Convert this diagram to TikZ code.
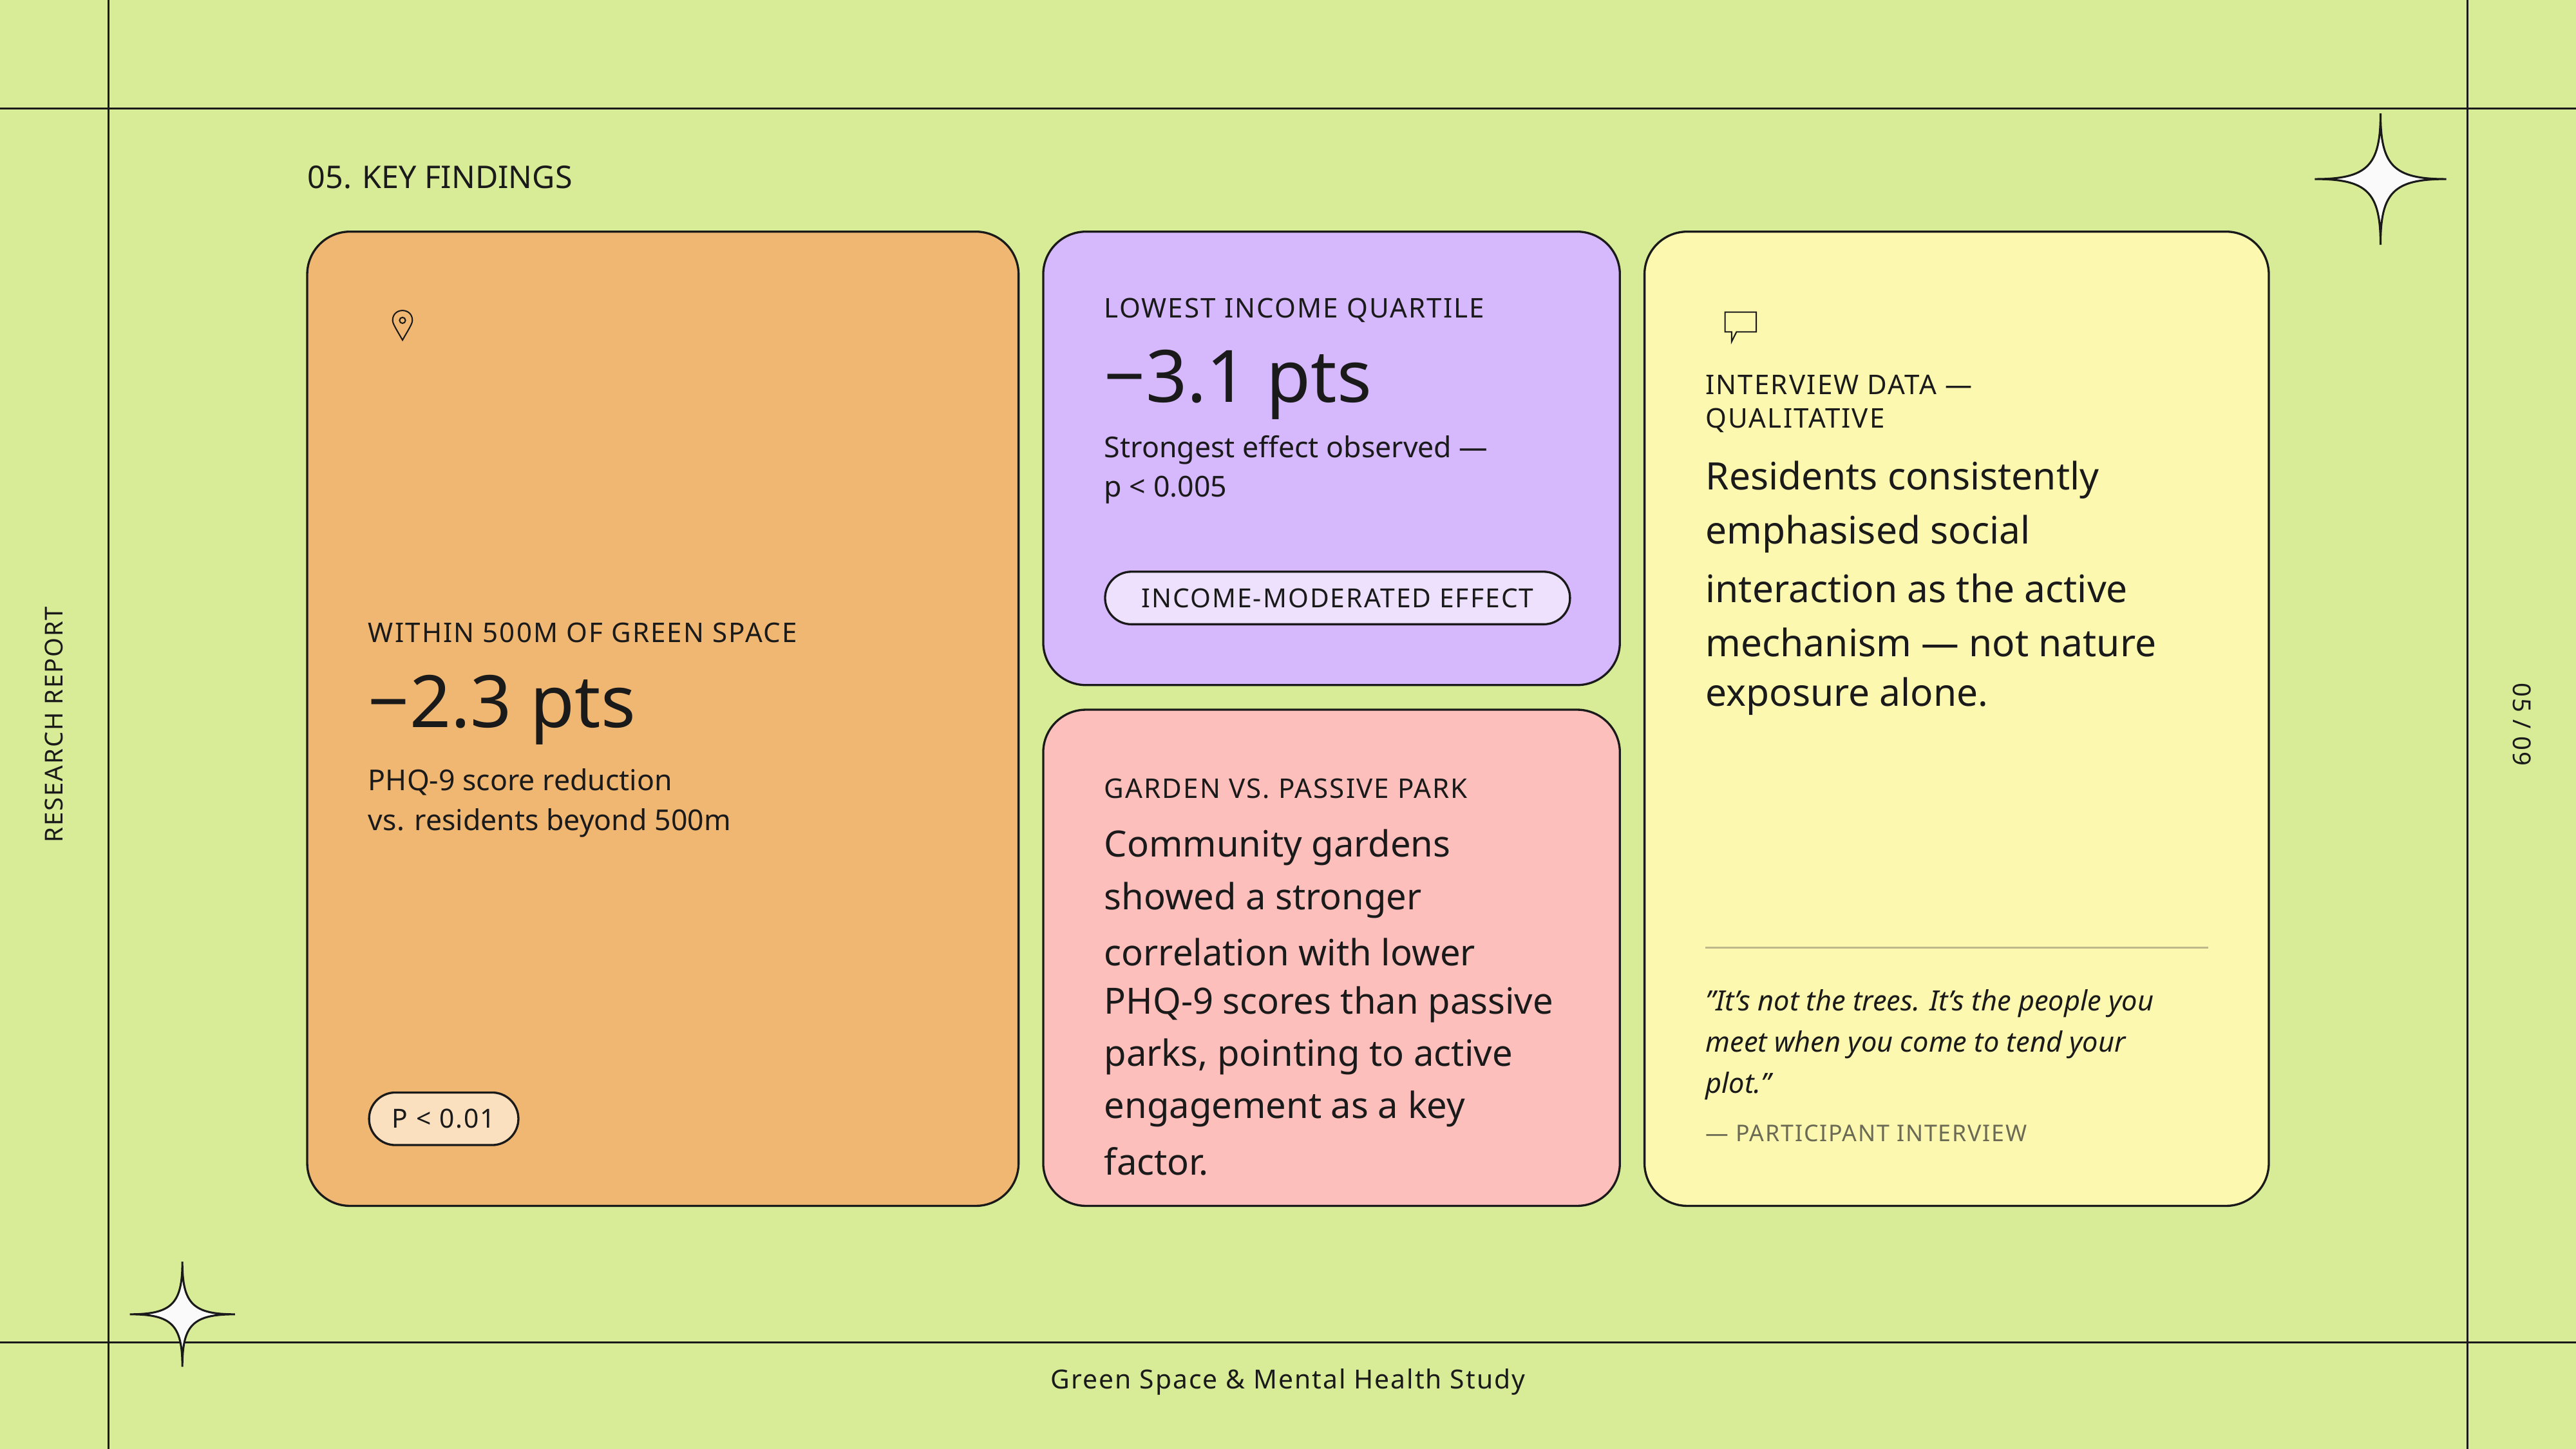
\documentclass[tikz,border=0pt]{standalone}
\usepackage{fontspec}
\setmainfont{Noto Sans}
\newfontfamily\capsfont[LetterSpace=5]{Noto Sans}
\usetikzlibrary{positioning}
\definecolor{bgGreen}{HTML}{D8EC98}
\definecolor{inkDark}{HTML}{1A1A1A}
\definecolor{cardOrange}{HTML}{F0B773}
\definecolor{cardPurple}{HTML}{D6B8FC}
\definecolor{cardPink}{HTML}{FDBFBC}
\definecolor{cardYellow}{HTML}{FDF8B0}
\definecolor{pillOrange}{HTML}{FAE0BF}
\definecolor{pillPurple}{HTML}{EDE1FD}
\definecolor{ruleOlive}{HTML}{BDB98A}
\definecolor{mutedInk}{HTML}{6B6A55}
\tikzset{
  card/.style={draw=inkDark, line width=1.3pt, rounded corners=26pt},
  frameline/.style={draw=inkDark, line width=1.3pt},
  kicker/.style={anchor=west, inner sep=0pt, text=inkDark, font=\capsfont\fontsize{16.5}{20}\selectfont},
  bignum/.style={anchor=west, inner sep=0pt, text=inkDark, font=\fontsize{44}{50}\selectfont},
  smalltxt/.style={anchor=west, inner sep=0pt, text=inkDark, font=\fontsize{17.5}{21}\selectfont},
  bodytxt/.style={anchor=west, inner sep=0pt, text=inkDark, font=\fontsize{22}{26}\selectfont},
  pill/.style={draw=inkDark, line width=1.3pt, rounded corners=16pt, minimum height=32pt, inner xsep=14pt, anchor=west, text=inkDark, font=\capsfont\fontsize{16}{19}\selectfont},
}
\newcommand{\sparkle}[3]{% centre x, centre y, arm length
  \draw[inkDark, line width=1.2pt, fill=white!96!gray]
    (#1-#3,#2) .. controls (#1-#3*0.2,#2) and (#1,#2-#3*0.2) .. (#1,#2-#3)
    .. controls (#1,#2-#3*0.2) and (#1+#3*0.2,#2) .. (#1+#3,#2)
    .. controls (#1+#3*0.2,#2) and (#1,#2+#3*0.2) .. (#1,#2+#3)
    .. controls (#1,#2+#3*0.2) and (#1-#3*0.2,#2) .. cycle;}
\begin{document}
\begin{tikzpicture}[x=1pt,y=1pt,yscale=-1]
\fill[bgGreen] (0,0) rectangle (1568,882);
\useasboundingbox (0,0) rectangle (1568,882);

% frame
\draw[frameline] (66,0) -- (66,882);
\draw[frameline] (1502,0) -- (1502,882);
\draw[frameline] (0,66) -- (1568,66);
\draw[frameline] (0,817) -- (1568,817);

% sparkles
\sparkle{1449}{109}{40}
\sparkle{111}{800}{32}

% margins
\node[rotate=90, text=inkDark, font=\capsfont\fontsize{15}{18}\selectfont] (sideLeft) at (33,441) {RESEARCH REPORT};
\node[rotate=-90, text=inkDark, font=\capsfont\fontsize{15}{18}\selectfont] (sideRight) at (1535,441) {05 / 09};
\node[text=inkDark, font=\capsfont\fontsize{16}{19}\selectfont] (footer) at (784,841) {Green Space \& Mental Health Study};
\node[anchor=west, inner sep=0pt, text=inkDark, font=\fontsize{19}{23}\selectfont] (title) at (187,108) {05. KEY FINDINGS};

% cards
\draw[card, fill=cardOrange] (187,141) rectangle (620,734);
\draw[card, fill=cardPurple] (635,141) rectangle (986,417);
\draw[card, fill=cardPink] (635,432) rectangle (986,734);
\draw[card, fill=cardYellow] (1001,141) rectangle (1381,734);

% card 1
\draw[inkDark, line width=0.8pt] (245,207) .. controls (241,200) and (239,197) .. (239,195) .. controls (239,187) and (251,187) .. (251,195) .. controls (251,197) and (249,200) .. (245,207) -- cycle;
\draw[inkDark, line width=0.8pt] (245,195) circle (1.8);
\node[kicker] (k1) at (224,385) {WITHIN 500M OF GREEN SPACE};
\node[bignum] (n1) at (224,432) {−2.3 pts};
\node[smalltxt] (s1a) at (224,476) {PHQ-9 score reduction};
\node[smalltxt] (s1b) at (224,501) {vs. residents beyond 500m};
\node[pill, fill=pillOrange] (p1) at (224,681) {P < 0.01};

% card 2
\node[kicker] (k2) at (672,189) {LOWEST INCOME QUARTILE};
\node[bignum] (n2) at (672,234) {−3.1 pts};
\node[smalltxt] (s2a) at (672,274) {Strongest effect observed —};
\node[smalltxt] (s2b) at (672,298) {p < 0.005};
\node[pill, fill=pillPurple, minimum width=283pt] (p2) at (672,364) {INCOME-MODERATED EFFECT};

% card 3
\node[kicker] (k3) at (672,480) {GARDEN VS. PASSIVE PARK};
\foreach \txt [count=\i from 0] in {Community gardens, showed a \textbf{stronger}, \textbf{correlation} with lower, PHQ-9 scores than passive, {parks, pointing to active}, engagement as a key, factor.}
  \node[bodytxt] (b3-\i) at (672,516+31.8*\i) {\txt};

% card 4
\draw[inkDark, line width=0.8pt] (1050,190) -- (1069,190) -- (1069,202) -- (1057,202) -- (1054,208) -- (1054,202) -- (1050,202) -- cycle;
\node[kicker] (k4a) at (1038,234) {INTERVIEW DATA —};
\node[kicker] (k4b) at (1038,256) {QUALITATIVE};
\foreach \txt [count=\i from 0] in {Residents consistently, emphasised \textbf{social}, \textbf{interaction} as the active, mechanism — not nature, exposure alone.}
  \node[bodytxt, font=\fontsize{23}{27}\selectfont] (b4-\i) at (1038,292+33*\i) {\txt};
\coordinate (ruleL) at (1038,577);
\coordinate (ruleR) at (1344,577);
\draw[ruleOlive, line width=1.2pt] (ruleL) -- (ruleR);
\foreach \txt [count=\i from 0] in {"It's not the trees. It's the people you, meet when you come to tend your, plot."}
  \node[smalltxt, font=\itshape\fontsize{17}{21}\selectfont] (q-\i) at (1038,611+25*\i) {\txt};
\node[kicker, text=mutedInk, font=\capsfont\fontsize{14}{17}\selectfont] (cite) at (1038,690) {— PARTICIPANT INTERVIEW};
\end{tikzpicture}
\end{document}
